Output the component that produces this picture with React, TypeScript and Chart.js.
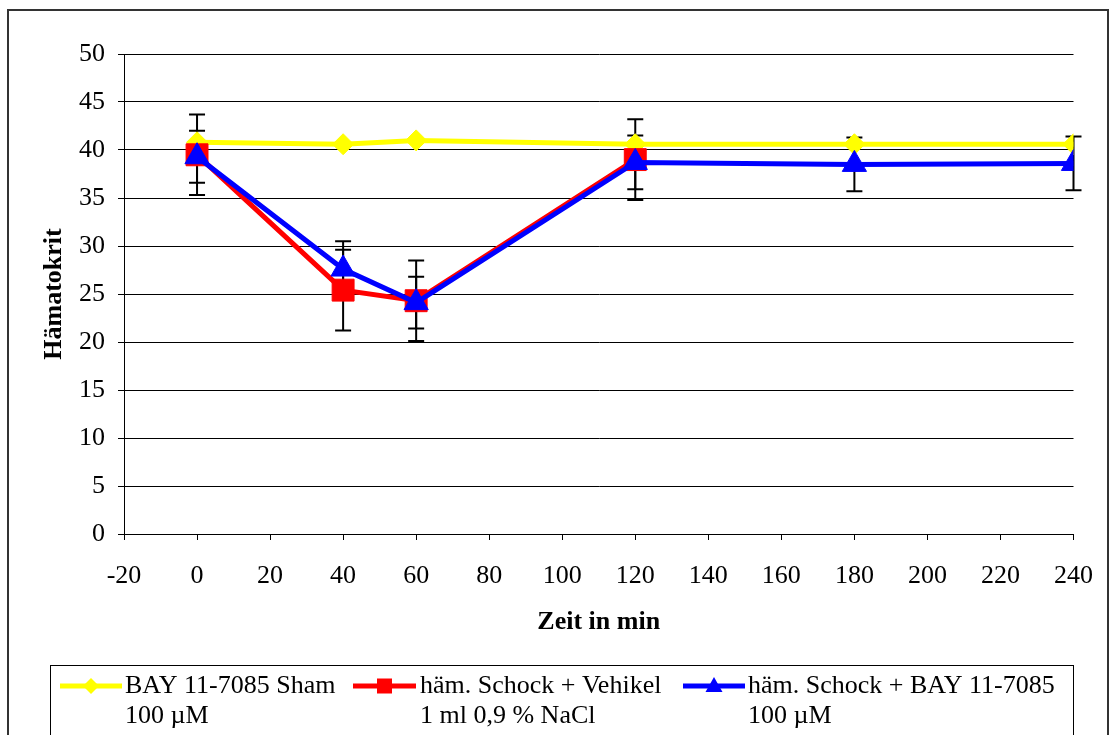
import React, { useEffect, useRef } from 'react';
import { Chart, registerables } from 'chart.js';

Chart.register(...registerables);

// ---- data ----
const minutes = [0, 40, 60, 120, 180, 240];
const shamValues = [40.8, 40.6, 41.0, 40.6, 40.6, 40.6];
const shamErrors = [0, 0, 0, 0, 0, 0];
const vehikelMinutes = [0, 40, 60, 120];
const vehikelValues = [39.5, 25.4, 24.3, 39.0];
const vehikelErrors = [4.2, 4.2, 4.2, 4.2];
const bayValues = [39.3, 27.6, 24.1, 38.7, 38.5, 38.6];
const bayErrors = [2.7, 2.9, 2.7, 2.8, 2.8, 2.8];

const seriesColors = ['#FFFF00', '#FF0000', '#0000FF'];
const legendLines = [
  ['BAY 11-7085 Sham', '100 µM'],
  ['häm. Schock + Vehikel', '1 ml 0,9 % NaCl'],
  ['häm. Schock + BAY 11-7085', '100 µM'],
];
const xTitle = 'Zeit in min';
const yTitle = 'Hämatokrit';
const xMin = -20;
const xMax = 240;
const xStep = 20;
const yMin = 0;
const yMax = 50;
const yStep = 5;

const FONT = '"Liberation Serif", "Times New Roman", serif';

const errorsByDataset = [shamErrors, vehikelErrors, bayErrors];

const errorBarPlugin = {
  id: 'errorBars',
  beforeDatasetsDraw(chart: any) {
    const ctx = chart.ctx;
    const xs = chart.scales.x;
    const ys = chart.scales.y;
    ctx.save();
    ctx.strokeStyle = '#000';
    ctx.lineWidth = 2;
    chart.data.datasets.forEach((ds: any, di: number) => {
      const errs = errorsByDataset[di];
      ds.data.forEach((p: any, i: number) => {
        const e = errs[i];
        if (!e) return;
        const px = xs.getPixelForValue(p.x);
        const top = ys.getPixelForValue(p.y + e);
        const bot = ys.getPixelForValue(p.y - e);
        ctx.beginPath();
        ctx.moveTo(px, top);
        ctx.lineTo(px, bot);
        ctx.moveTo(px - 8, top);
        ctx.lineTo(px + 8, top);
        ctx.moveTo(px - 8, bot);
        ctx.lineTo(px + 8, bot);
        ctx.stroke();
      });
    });
    ctx.restore();
  },
};

function drawMarker(ctx: CanvasRenderingContext2D, kind: number, x: number, y: number, color: string) {
  ctx.fillStyle = color;
  ctx.beginPath();
  if (kind === 0) {
    const r = 8;
    ctx.moveTo(x, y - r);
    ctx.lineTo(x + r, y);
    ctx.lineTo(x, y + r);
    ctx.lineTo(x - r, y);
  } else if (kind === 1) {
    ctx.rect(x - 7.5, y - 7.5, 15, 15);
  } else {
    ctx.moveTo(x, y - 9);
    ctx.lineTo(x + 8.5, y + 6);
    ctx.lineTo(x - 8.5, y + 6);
  }
  ctx.closePath();
  ctx.fill();
}

const frameLegendPlugin = {
  id: 'frameLegend',
  afterDraw(chart: any) {
    const ctx: CanvasRenderingContext2D = chart.ctx;
    ctx.save();
    // outer frame
    ctx.strokeStyle = '#333';
    ctx.lineWidth = 2;
    ctx.strokeRect(8, 10, 1100, 760);
    // legend box
    ctx.strokeStyle = '#000';
    ctx.lineWidth = 1;
    ctx.strokeRect(50.5, 665.5, 1023, 100);
    const entries = [
      { x0: 60, x1: 122, tx: 125 },
      { x0: 353, x1: 416, tx: 420 },
      { x0: 683, x1: 745, tx: 748 },
    ];
    const y1 = 686;
    const y2 = 716;
    entries.forEach((en, i) => {
      ctx.strokeStyle = seriesColors[i];
      ctx.lineWidth = 5;
      ctx.beginPath();
      ctx.moveTo(en.x0, y1);
      ctx.lineTo(en.x1, y1);
      ctx.stroke();
      drawMarker(ctx, i, (en.x0 + en.x1) / 2, y1, seriesColors[i]);
      ctx.fillStyle = '#000';
      ctx.font = `26px ${FONT}`;
      ctx.textAlign = 'left';
      ctx.textBaseline = 'middle';
      ctx.fillText(legendLines[i][0], en.tx, y1);
      ctx.fillText(legendLines[i][1], en.tx, y2);
    });
    ctx.restore();
  },
};

export default function App() {
  const canvasRef = useRef<HTMLCanvasElement | null>(null);

  useEffect(() => {
    const canvas = canvasRef.current;
    if (!canvas) return;
    const chart = new Chart(canvas, {
      type: 'line',
      data: {
        datasets: [
          {
            label: legendLines[0].join(' '),
            data: minutes.map((m, i) => ({ x: m, y: shamValues[i] })),
            borderColor: seriesColors[0],
            backgroundColor: seriesColors[0],
            borderWidth: 5,
            pointStyle: 'rectRot',
            pointRadius: 10.5,
            pointBorderWidth: 1,
            pointBorderColor: seriesColors[0],
            pointBackgroundColor: seriesColors[0],
            tension: 0,
            order: 3,
          },
          {
            label: legendLines[1].join(' '),
            data: vehikelMinutes.map((m, i) => ({ x: m, y: vehikelValues[i] })),
            borderColor: seriesColors[1],
            backgroundColor: seriesColors[1],
            borderWidth: 5,
            pointStyle: 'rect',
            pointRadius: 15.5,
            pointBorderWidth: 1,
            pointBorderColor: seriesColors[1],
            pointBackgroundColor: seriesColors[1],
            tension: 0,
            order: 2,
          },
          {
            label: legendLines[2].join(' '),
            data: minutes.map((m, i) => ({ x: m, y: bayValues[i] })),
            borderColor: seriesColors[2],
            backgroundColor: seriesColors[2],
            borderWidth: 5,
            pointStyle: 'triangle',
            pointRadius: 14,
            pointBorderWidth: 1,
            pointBorderColor: seriesColors[2],
            pointBackgroundColor: seriesColors[2],
            tension: 0,
            order: 1,
          },
        ],
      },
      options: {
        responsive: false,
        animation: false,
        events: [],
        layout: { padding: { left: 10, top: 54, right: 39, bottom: 91 } },
        plugins: {
          legend: { display: false },
          tooltip: { enabled: false },
          title: { display: false },
        },
        scales: {
          x: {
            type: 'linear',
            position: 'bottom',
            min: xMin,
            max: xMax,
            afterFit: (scale: any) => {
              scale.height = 110;
            },
            ticks: {
              stepSize: xStep,
              color: '#000',
              font: { family: FONT, size: 26 },
              padding: 21,
              maxRotation: 0,
              autoSkip: false,
            },
            grid: {
              display: true,
              drawOnChartArea: false,
              drawTicks: true,
              tickLength: 6,
              tickColor: '#000',
            },
            border: { display: true, color: '#000', width: 1 },
            title: {
              display: true,
              text: xTitle,
              color: '#000',
              font: { family: FONT, size: 26, weight: 'bold' },
              padding: { top: 0, bottom: 6 },
            },
          },
          y: {
            type: 'linear',
            min: yMin,
            max: yMax,
            afterFit: (scale: any) => {
              scale.width = 114;
            },
            ticks: {
              stepSize: yStep,
              color: '#000',
              font: { family: FONT, size: 26 },
              padding: 13,
            },
            grid: {
              color: '#000',
              lineWidth: 1,
              drawTicks: true,
              tickLength: 6,
              tickColor: '#000',
            },
            border: { display: true, color: '#000', width: 1 },
            title: {
              display: true,
              text: yTitle,
              color: '#000',
              font: { family: FONT, size: 26, weight: 'bold' },
              padding: { top: 29, bottom: 0 },
            },
          },
        },
      },
      plugins: [errorBarPlugin, frameLegendPlugin],
    } as any);
    return () => {
      chart.destroy();
    };
  }, []);

  return (
    <div style={{ position: 'fixed', left: 0, top: 0, width: 1114, height: 735, background: '#fff' }}>
      <canvas ref={canvasRef} width={1114} height={735} style={{ display: 'block' }} />
    </div>
  );
}
